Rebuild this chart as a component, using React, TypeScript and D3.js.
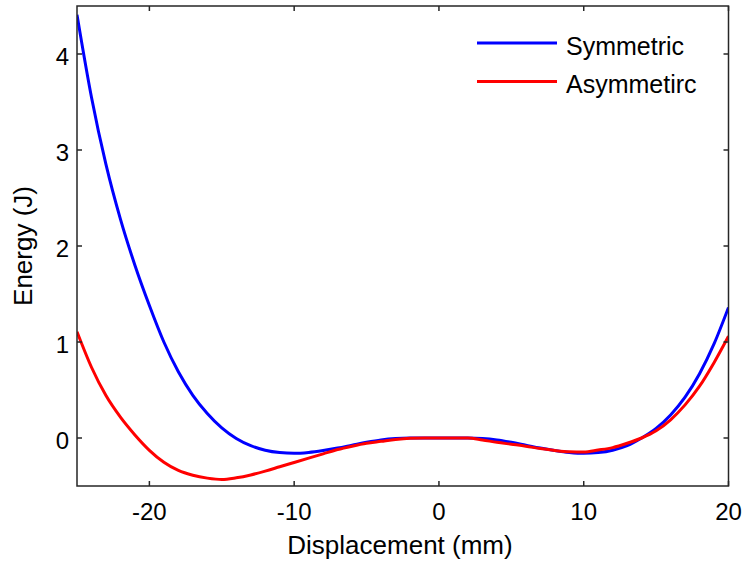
import React from "react";
import * as d3 from "d3";

const xValues = [-25, -24, -23, -22, -21, -20, -19, -18, -17, -16, -15, -14, -13, -12, -11, -10, -9, -8, -7, -6, -5, -4, -3, -2, -1, 0, 1, 2, 3, 4, 5, 6, 7, 8, 9, 10, 11, 12, 13, 14, 15, 16, 17, 18, 19, 20];
const symmetric = [4.41, 3.55, 2.85, 2.28, 1.8, 1.38, 1.0, 0.69, 0.445, 0.255, 0.105, -0.005, -0.08, -0.127, -0.152, -0.16, -0.15, -0.13, -0.105, -0.075, -0.045, -0.02, -0.005, 0, 0, 0, 0, 0, -0.005, -0.02, -0.045, -0.075, -0.105, -0.13, -0.15, -0.16, -0.152, -0.127, -0.08, 0.0, 0.1, 0.24, 0.425, 0.67, 0.98, 1.36];
const asymmetric = [1.107, 0.737, 0.442, 0.217, 0.032, -0.128, -0.253, -0.338, -0.388, -0.418, -0.433, -0.415, -0.385, -0.345, -0.3, -0.255, -0.21, -0.165, -0.12, -0.085, -0.055, -0.035, -0.015, -0.003, 0, 0, 0, 0, -0.02, -0.045, -0.065, -0.085, -0.11, -0.13, -0.143, -0.145, -0.125, -0.1, -0.055, 0.0, 0.075, 0.19, 0.345, 0.54, 0.785, 1.06];
const xTicks = [-20, -10, 0, 10, 20];
const yTicks = [0, 1, 2, 3, 4];
const seriesNames = ["Symmetric", "Asymmetirc"];
const seriesColors = ["#0000ff", "#ff0000"];

const W = 743, H = 561;
const M = { left: 77, right: 728.5, top: 6, bottom: 486 };

export default function App() {
  const x = d3.scaleLinear().domain([-25, 20]).range([M.left, M.right]);
  const y = d3.scaleLinear().domain([-0.5, 4.5]).range([M.bottom, M.top]);
  const line = d3
    .line<number>()
    .x((_, i) => x(xValues[i]))
    .y((d) => y(d))
    .curve(d3.curveMonotoneX);
  const series = [symmetric, asymmetric];
  const font = "Arial, 'Liberation Sans', Helvetica, sans-serif";
  const axisColor = "#262626";
  const tl = 5;
  return (
    <svg width={W} height={H} style={{ position: "absolute", left: 0, top: 0, background: "#fff" }} fontFamily={font}>
      <rect x={0} y={0} width={W} height={H} fill="#fff" />
      <defs>
        <clipPath id="plot">
          <rect x={M.left} y={M.top} width={M.right - M.left} height={M.bottom - M.top} />
        </clipPath>
      </defs>
      {series.map((s, i) => (
        <path key={i} d={line(s) || ""} fill="none" stroke={seriesColors[i]} strokeWidth={3} clipPath="url(#plot)" />
      ))}
      <rect x={M.left} y={M.top} width={M.right - M.left} height={M.bottom - M.top} fill="none" stroke={axisColor} strokeWidth={1.5} />
      {xTicks.map((t) => (
        <g key={"x" + t}>
          <line x1={x(t)} x2={x(t)} y1={M.bottom} y2={M.bottom - tl} stroke={axisColor} strokeWidth={1.5} />
          <line x1={x(t)} x2={x(t)} y1={M.top} y2={M.top + tl} stroke={axisColor} strokeWidth={1.5} />
          <text x={x(t)} y={520} textAnchor="middle" fontSize={24} fill="#000">
            {t}
          </text>
        </g>
      ))}
      {yTicks.map((t) => (
        <g key={"y" + t}>
          <line x1={M.left} x2={M.left + tl} y1={y(t)} y2={y(t)} stroke={axisColor} strokeWidth={1.5} />
          <line x1={M.right} x2={M.right - tl} y1={y(t)} y2={y(t)} stroke={axisColor} strokeWidth={1.5} />
          <text x={69} y={y(t) + 11} textAnchor="end" fontSize={24} fill="#000">
            {t}
          </text>
        </g>
      ))}
      <text x={400} y={554} textAnchor="middle" fontSize={26} fill="#000">
        Displacement (mm)
      </text>
      <text transform={`translate(32,246) rotate(-90)`} textAnchor="middle" fontSize={26} fill="#000">
        Energy (J)
      </text>
      {seriesNames.map((n, i) => (
        <g key={n}>
          <line x1={477} x2={557} y1={43 + i * 38.5} y2={43 + i * 38.5} stroke={seriesColors[i]} strokeWidth={3} />
          <text x={566} y={55 + i * 38} fontSize={25} fill="#000">
            {n}
          </text>
        </g>
      ))}
    </svg>
  );
}
